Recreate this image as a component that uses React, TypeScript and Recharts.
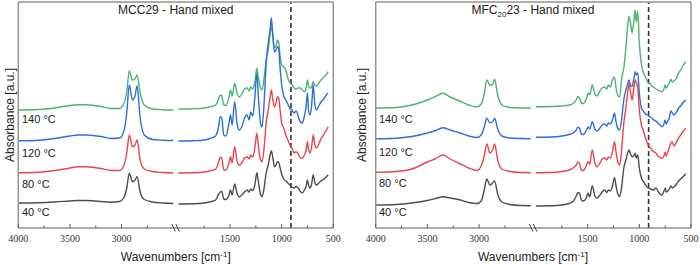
import React from 'react'
import { LineChart, Line, XAxis, YAxis, ReferenceLine } from 'recharts'

// wavenumber grid (cm-1); the 2500-2000 window is cut out of the axis
const wavenumbers = [
  4000, 3800, 3650, 3500, 3420, 3350, 3280, 3200, 3100, 3020, 2980, 2950, 2925, 2895, 2870, 2850, 2820, 2780, 2700, 2600, 2500,
  2000, 1850, 1750, 1680, 1640, 1610, 1595, 1580, 1560, 1540, 1510, 1495, 1480, 1455, 1430, 1410, 1380, 1360, 1335, 1315,
  1300, 1280, 1260, 1240, 1225, 1205, 1190, 1170, 1150, 1130, 1110, 1100, 1085, 1070, 1055, 1040, 1030, 1015, 1000, 980,
  960, 940, 920, 900, 880, 860, 840, 820, 800, 780, 765, 750, 740, 725, 710, 695, 680, 665, 640, 620, 600, 580, 560, 550,
]

const temperatures = ['40 °C', '80 °C', '120 °C', '140 °C']

// stacked absorbance, MCC29
const mcc40 = [
  0.25, 0.253, 0.26, 0.27, 0.275, 0.275, 0.272, 0.265, 0.258, 0.265, 0.3, 0.4, 0.547, 0.463, 0.48, 0.513, 0.36, 0.285, 0.26, 0.25, 0.245,
  0.24, 0.242, 0.25, 0.265, 0.28, 0.34, 0.36, 0.365, 0.29, 0.285, 0.33, 0.38, 0.33, 0.44, 0.34, 0.31, 0.335, 0.36, 0.38, 0.36,
  0.39, 0.375, 0.43, 0.553, 0.46, 0.34, 0.313, 0.4, 0.55, 0.63, 0.74, 0.773, 0.7, 0.613, 0.63, 0.663, 0.66, 0.6, 0.54, 0.49,
  0.47, 0.45, 0.43, 0.41, 0.4, 0.415, 0.4, 0.367, 0.35, 0.38, 0.41, 0.48, 0.43, 0.4, 0.44, 0.53, 0.46, 0.43, 0.45, 0.47,
  0.48, 0.5, 0.52, 0.53,
]
const mcc80 = [
  0.553, 0.558, 0.575, 0.6, 0.613, 0.613, 0.608, 0.595, 0.575, 0.575, 0.62, 0.75, 0.93, 0.813, 0.83, 0.88, 0.68, 0.59, 0.565, 0.555, 0.55,
  0.55, 0.552, 0.56, 0.575, 0.59, 0.66, 0.707, 0.7, 0.58, 0.58, 0.65, 0.713, 0.65, 0.813, 0.66, 0.627, 0.66, 0.7, 0.713, 0.69,
  0.73, 0.71, 0.8, 0.947, 0.82, 0.68, 0.663, 0.8, 1.05, 1.18, 1.32, 1.38, 1.28, 1.213, 1.25, 1.313, 1.3, 1.18, 1.05, 1.0,
  0.93, 0.88, 0.83, 0.797, 0.75, 0.763, 0.74, 0.705, 0.697, 0.73, 0.77, 0.863, 0.79, 0.75, 0.81, 0.93, 0.84, 0.8, 0.84, 0.89,
  0.92, 0.96, 0.99, 1.013,
]
const mcc120 = [
  0.873, 0.878, 0.895, 0.92, 0.93, 0.93, 0.925, 0.915, 0.895, 0.9, 0.96, 1.15, 1.43, 1.28, 1.32, 1.42, 1.1, 0.93, 0.885, 0.878, 0.875,
  0.87, 0.873, 0.88, 0.9, 0.92, 1.02, 1.113, 1.1, 0.93, 0.92, 1.05, 1.13, 1.03, 1.263, 1.03, 0.98, 1.03, 1.1, 1.13, 1.08,
  1.16, 1.12, 1.3, 1.55, 1.3, 1.05, 1.01, 1.25, 1.65, 1.85, 2.0, 2.1, 1.92, 1.76, 1.78, 1.813, 1.8, 1.6, 1.43, 1.32,
  1.28, 1.24, 1.195, 1.18, 1.15, 1.17, 1.12, 1.06, 1.05, 1.12, 1.2, 1.35, 1.18, 1.13, 1.22, 1.43, 1.25, 1.18, 1.22, 1.26,
  1.28, 1.31, 1.34, 1.35,
]
const mcc140 = [
  1.18, 1.185, 1.2, 1.225, 1.233, 1.233, 1.228, 1.215, 1.195, 1.195, 1.24, 1.36, 1.57, 1.48, 1.49, 1.53, 1.35, 1.23, 1.19, 1.183, 1.18,
  1.19, 1.193, 1.2, 1.215, 1.23, 1.29, 1.33, 1.32, 1.23, 1.225, 1.31, 1.38, 1.32, 1.447, 1.34, 1.31, 1.35, 1.39, 1.4, 1.37,
  1.41, 1.39, 1.46, 1.597, 1.5, 1.4, 1.38, 1.5, 1.68, 1.78, 1.96, 2.02, 1.92, 1.8, 1.82, 1.88, 1.86, 1.72, 1.63, 1.613,
  1.58, 1.5, 1.45, 1.43, 1.4, 1.39, 1.4, 1.4, 1.38, 1.363, 1.39, 1.48, 1.42, 1.4, 1.41, 1.463, 1.43, 1.42, 1.45, 1.48,
  1.5, 1.52, 1.545, 1.563,
]

// stacked absorbance, MFC20 23
const mfc40 = [
  0.23, 0.235, 0.25, 0.275, 0.295, 0.313, 0.3, 0.285, 0.255, 0.245, 0.27, 0.38, 0.49, 0.43, 0.45, 0.47, 0.34, 0.26, 0.235, 0.225, 0.223,
  0.22, 0.222, 0.23, 0.245, 0.265, 0.32, 0.353, 0.35, 0.28, 0.27, 0.31, 0.35, 0.31, 0.423, 0.32, 0.3, 0.33, 0.36, 0.38, 0.355,
  0.38, 0.37, 0.42, 0.503, 0.42, 0.33, 0.313, 0.42, 0.6, 0.68, 0.76, 0.78, 0.74, 0.713, 0.72, 0.747, 0.7, 0.73, 0.6, 0.5,
  0.463, 0.43, 0.405, 0.397, 0.385, 0.38, 0.4, 0.37, 0.34, 0.33, 0.36, 0.397, 0.36, 0.37, 0.39, 0.42, 0.4, 0.41, 0.44, 0.47,
  0.49, 0.51, 0.53, 0.54,
]
const mfc80 = [
  0.557, 0.565, 0.59, 0.66, 0.695, 0.73, 0.69, 0.65, 0.6, 0.575, 0.62, 0.72, 0.84, 0.75, 0.78, 0.84, 0.68, 0.59, 0.565, 0.555, 0.553,
  0.553, 0.555, 0.565, 0.58, 0.6, 0.63, 0.657, 0.65, 0.58, 0.575, 0.63, 0.663, 0.64, 0.78, 0.65, 0.613, 0.65, 0.69, 0.7, 0.68,
  0.71, 0.7, 0.76, 0.863, 0.76, 0.65, 0.63, 0.8, 1.05, 1.2, 1.38, 1.447, 1.36, 1.28, 1.38, 1.48, 1.46, 1.4, 1.18, 1.03,
  0.97, 0.9, 0.84, 0.813, 0.78, 0.763, 0.75, 0.72, 0.705, 0.697, 0.71, 0.76, 0.72, 0.76, 0.8, 0.85, 0.86, 0.82, 0.86, 0.9,
  0.93, 0.96, 0.985, 0.997,
]
const mfc120 = [
  0.893, 0.898, 0.915, 0.95, 0.975, 1.003, 0.98, 0.955, 0.92, 0.905, 0.93, 1.01, 1.097, 1.053, 1.06, 1.097, 0.99, 0.92, 0.9, 0.895, 0.893,
  0.907, 0.91, 0.92, 0.935, 0.95, 0.98, 1.007, 1.0, 0.94, 0.935, 0.98, 1.01, 0.99, 1.063, 0.99, 0.97, 1.0, 1.03, 1.04, 1.02,
  1.05, 1.04, 1.08, 1.147, 1.06, 0.99, 0.98, 1.1, 1.28, 1.38, 1.45, 1.48, 1.43, 1.413, 1.48, 1.563, 1.53, 1.55, 1.35, 1.2,
  1.17, 1.14, 1.13, 1.113, 1.1, 1.08, 1.07, 1.05, 1.03, 1.013, 1.03, 1.08, 1.04, 1.07, 1.1, 1.17, 1.15, 1.13, 1.16, 1.2,
  1.22, 1.25, 1.27, 1.28,
]
const mfc140 = [
  1.2, 1.205, 1.23, 1.28, 1.315, 1.347, 1.31, 1.275, 1.23, 1.21, 1.24, 1.34, 1.48, 1.43, 1.43, 1.487, 1.33, 1.23, 1.205, 1.2, 1.198,
  1.213, 1.215, 1.22, 1.23, 1.245, 1.28, 1.313, 1.305, 1.25, 1.245, 1.3, 1.35, 1.33, 1.43, 1.34, 1.32, 1.37, 1.4, 1.41, 1.39,
  1.43, 1.41, 1.48, 1.507, 1.4, 1.32, 1.313, 1.5, 1.6, 1.8, 2.05, 2.113, 2.05, 1.95, 2.05, 2.18, 2.06, 2.163, 1.85, 1.64,
  1.55, 1.513, 1.46, 1.447, 1.42, 1.407, 1.39, 1.38, 1.37, 1.363, 1.38, 1.43, 1.4, 1.42, 1.45, 1.487, 1.46, 1.47, 1.5, 1.55,
  1.58, 1.62, 1.65, 1.663,
]

const colors = ['#4d4d4d', '#e8474a', '#2c6fd8', '#4ab474']
const FRAME = '#929292'
const AXIS = '#5c5c5c'
const BOTTOM = 228
const SANS = '"Liberation Sans", Arial, sans-serif'
const SERIF = '"Liberation Serif", "Times New Roman", serif'

// axis coordinate: the low range is shifted so the cut shows as a small gap
const CUT_SHIFT = 450
const BREAK_AT = 2475
const toAxis = (w: number) => (w >= 2500 ? w : w + CUT_SHIFT)
const fromAxis = (d: number) => (d >= BREAK_AT ? d : d - CUT_SHIFT)
const tickValues = [4000, 3750, 3500, 3250, 3000, 2750, 1750, 1500, 1250, 1000, 750, 500]
const axisTicks = [...tickValues.map(toAxis), BREAK_AT].sort((a, b) => b - a)

function buildRows(series: number[][]) {
  const rows: Record<string, number>[] = []
  wavenumbers.forEach((w, i) => {
    if (w === 2000) rows.push({ d: BREAK_AT })
    const row: Record<string, number> = { d: toAxis(w) }
    series.forEach((s, k) => (row['s' + k] = s[i]))
    rows.push(row)
  })
  return rows
}

function WaveTick(props: any) {
  const { x, payload } = props
  const v = payload.value
  if (v === BREAK_AT) {
    return (
      <g stroke="#444" strokeWidth={1}>
        <line x1={x - 4} y1={BOTTOM - 4} x2={x - 0.5} y2={BOTTOM + 3.5} />
        <line x1={x} y1={BOTTOM - 4} x2={x + 3.5} y2={BOTTOM + 3.5} />
      </g>
    )
  }
  const w = fromAxis(v)
  const major = w % 500 === 0
  return (
    <g>
      <line x1={x} x2={x} y1={BOTTOM} y2={BOTTOM - (major ? 4 : 2.5)} stroke={AXIS} strokeWidth={1} />
      {major && (
        <text x={x} y={BOTTOM + 13.5} textAnchor="middle" style={{ fontFamily: SERIF, fontSize: 10 }} fill="#333">
          {w}
        </text>
      )}
    </g>
  )
}

interface PanelProps {
  left: number
  plotLeft: number
  plotRight: number
  series: number[][]
}

function Panel({ left, plotLeft, plotRight, series }: PanelProps) {
  const rows = buildRows(series)
  // draw the hottest trace first so the cooler ones sit on top
  const order = [3, 2, 1, 0]
  return (
    <div style={{ position: 'absolute', left, top: 0 }}>
      <LineChart width={350} height={265} data={rows} margin={{ top: 1, right: 350 - plotRight - 1, bottom: 7, left: 0 }}>
        <XAxis
          xAxisId="b"
          type="number"
          dataKey="d"
          domain={[950, 4000]}
          reversed
          ticks={axisTicks}
          interval={0}
          tickLine={false}
          tick={<WaveTick />}
          axisLine={{ stroke: AXIS, strokeWidth: 1.2 }}
          height={30}
        />
        <XAxis
          xAxisId="t"
          orientation="top"
          type="number"
          domain={[950, 4000]}
          reversed
          tick={false}
          tickLine={false}
          axisLine={{ stroke: FRAME, strokeWidth: 1.5 }}
          height={1}
        />
        <YAxis
          yAxisId="l"
          type="number"
          domain={[0, 2.26]}
          width={plotLeft}
          tick={false}
          tickLine={false}
          axisLine={{ stroke: FRAME, strokeWidth: 1.5 }}
        />
        <YAxis
          yAxisId="r"
          orientation="right"
          type="number"
          domain={[0, 1]}
          width={1}
          tick={false}
          tickLine={false}
          axisLine={{ stroke: FRAME, strokeWidth: 1.5 }}
        />
        <ReferenceLine xAxisId="b" yAxisId="l" x={toAxis(910)} stroke="#333" strokeWidth={1.6} strokeDasharray="5 3" />
        {order.map((k) => (
          <Line
            key={k}
            xAxisId="b"
            yAxisId="l"
            type="monotoneX"
            dataKey={'s' + k}
            stroke={colors[k]}
            strokeWidth={1.4}
            dot={false}
            isAnimationActive={false}
          />
        ))}
      </LineChart>
    </div>
  )
}

// label baselines for 40, 80, 120, 140 °C
const labelRowsLeft = [216, 187.7, 156.7, 122.7]
const labelRowsRight = [215.5, 186.7, 155.5, 122.7]

function Annotations() {
  const txt = { fontFamily: SANS, fill: '#222' }
  return (
    <svg width={700} height={265} style={{ position: 'absolute', left: 0, top: 0, pointerEvents: 'none' }}>
      <text x={175.8} y={14} textAnchor="middle" fontSize={12} {...txt}>
        MCC29 - Hand mixed
      </text>
      <text x={533} y={14} textAnchor="middle" fontSize={12} {...txt}>
        MFC<tspan fontSize={8} dy={3}>20</tspan>
        <tspan dy={-3}>23 - Hand mixed</tspan>
      </text>
      {[9.5, 362].map((x) => (
        <text key={x} x={x} y={115} transform={`rotate(-90 ${x} 115)`} textAnchor="middle" dominantBaseline="central" fontSize={12} {...txt}>
          Absorbance [a.u.]
        </text>
      ))}
      {[175.8, 533].map((x) => (
        <text key={x} x={x} y={261} textAnchor="middle" fontSize={12} {...txt}>
          Wavenumbers [cm<tspan fontSize={8} dy={-4}>-1</tspan>
          <tspan dy={4}>]</tspan>
        </text>
      ))}
      {temperatures.map((t, i) => (
        <text key={'l' + t} x={22} y={labelRowsLeft[i]} fontSize={11} {...txt}>
          {t}
        </text>
      ))}
      {temperatures.map((t, i) => (
        <text key={'r' + t} x={379} y={labelRowsRight[i]} fontSize={11} {...txt}>
          {t}
        </text>
      ))}
    </svg>
  )
}

export default function App() {
  return (
    <div style={{ position: 'absolute', left: 0, top: 0, width: 700, height: 265, background: '#fff' }}>
      <Panel left={0} plotLeft={18.3} plotRight={333.3} series={[mcc40, mcc80, mcc120, mcc140]} />
      <Panel left={350} plotLeft={25.7} plotRight={341} series={[mfc40, mfc80, mfc120, mfc140]} />
      <Annotations />
    </div>
  )
}
